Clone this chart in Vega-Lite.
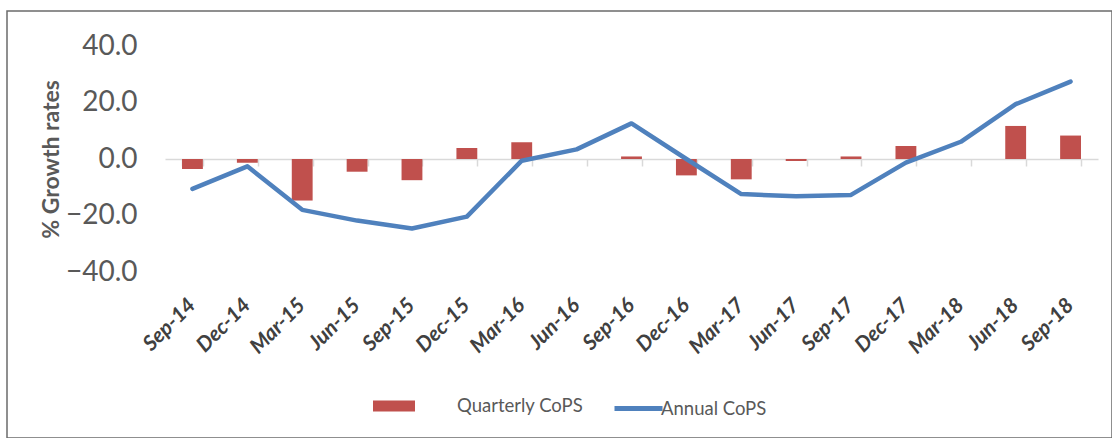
{
  "$schema": "https://vega.github.io/schema/vega-lite/v6.json",
  "autosize": {"type": "none"},
  "padding": {"left": 7, "top": 11, "right": 0, "bottom": 0},
  "width": 1105,
  "height": 427,
  "background": "white",
  "config": {
    "view": {"stroke": "#6b6b6b", "strokeWidth": 1.5},
    "font": "Lato"
  },
  "data": {
    "values": [
      {"quarter": "Sep-14", "quarterly": -3.5, "annual": -10.6},
      {"quarter": "Dec-14", "quarterly": -1.3, "annual": -2.6},
      {"quarter": "Mar-15", "quarterly": -14.7, "annual": -18.0},
      {"quarter": "Jun-15", "quarterly": -4.5, "annual": -21.8},
      {"quarter": "Sep-15", "quarterly": -7.5, "annual": -24.6},
      {"quarter": "Dec-15", "quarterly": 3.9, "annual": -20.4},
      {"quarter": "Mar-16", "quarterly": 5.9, "annual": -0.6},
      {"quarter": "Jun-16", "quarterly": 0.0, "annual": 3.4},
      {"quarter": "Sep-16", "quarterly": 0.9, "annual": 12.6},
      {"quarter": "Dec-16", "quarterly": -5.8, "annual": 0.0},
      {"quarter": "Mar-17", "quarterly": -7.2, "annual": -12.4},
      {"quarter": "Jun-17", "quarterly": -0.7, "annual": -13.2},
      {"quarter": "Sep-17", "quarterly": 0.9, "annual": -12.7},
      {"quarter": "Dec-17", "quarterly": 4.6, "annual": -1.3},
      {"quarter": "Mar-18", "quarterly": 0.0, "annual": 6.1},
      {"quarter": "Jun-18", "quarterly": 11.7, "annual": 19.4},
      {"quarter": "Sep-18", "quarterly": 8.3, "annual": 27.4}
    ]
  },
  "resolve": {"axis": {"x": "independent"}, "legend": {"fill": "independent", "stroke": "independent"}},
  "layer": [
    {
      "mark": {"type": "bar"},
      "encoding": {
        "x": {
          "field": "quarter", "type": "nominal", "sort": null,
          "scale": {"range": [158, 1091], "paddingInner": 0.62, "paddingOuter": 0.31, "align": 0.5},
          "axis": {
            "orient": "bottom", "offset": -279, "labels": false, "title": null,
            "domainColor": "#D9D9D9", "domainWidth": 1.5,
            "ticks": true, "tickColor": "#D9D9D9", "tickWidth": 1.5, "tickSize": 7, "tickBand": "extent"
          }
        },
        "y": {
          "field": "quarterly", "type": "quantitative",
          "scale": {"domain": [-98.76, 52.39], "nice": false, "zero": false},
          "axis": {
            "title": "% Growth rates", "values": [-40, -20, 0, 20, 40], "format": ".1f",
            "domain": false, "ticks": false, "grid": false, "offset": -130, "labelPadding": 0,
            "labelFont": "Lato", "labelFontSize": 28, "labelColor": "#595959",
            "titleFont": "Lato", "titleFontSize": 23, "titleFontWeight": "bold", "titleColor": "#595959",
            "titleX": -86, "titleY": 148, "titleAngle": -90, "titleAlign": "center", "titleBaseline": "middle"
          }
        },
        "y2": {"datum": 0},
        "fill": {
          "datum": "Quarterly CoPS",
          "scale": {"range": ["#C0504D"]},
          "legend": {
            "title": null, "orient": "none", "legendX": 366, "legendY": 374, "padding": 0,
            "symbolType": "M-1,-0.26H1V0.26H-1Z", "symbolSize": 1764, "symbolStrokeWidth": 0,
            "labelOffset": 42, "labelFont": "Lato", "labelFontSize": 18.5, "labelColor": "#595959"
          }
        }
      }
    },
    {
      "mark": {"type": "line", "strokeWidth": 4.5, "strokeCap": "round", "strokeJoin": "round"},
      "encoding": {
        "x": {
          "field": "quarter", "type": "nominal", "sort": null,
          "scale": {"range": [158, 1091], "paddingInner": 0.62, "paddingOuter": 0.31, "align": 0.5},
          "axis": {
            "orient": "bottom", "offset": -136, "title": null, "domain": false, "ticks": false,
            "labelAngle": -45, "labelAlign": "right", "labelBaseline": "middle", "labelPadding": 0,
            "labelFont": "Lato", "labelFontSize": 21, "labelFontWeight": "bold", "labelFontStyle": "italic",
            "labelColor": "#404040"
          }
        },
        "y": {
          "field": "annual", "type": "quantitative",
          "scale": {"domain": [-98.76, 52.39], "nice": false, "zero": false},
          "axis": {
            "title": "% Growth rates", "values": [-40, -20, 0, 20, 40], "format": ".1f",
            "domain": false, "ticks": false, "grid": false, "offset": -130, "labelPadding": 0,
            "labelFont": "Lato", "labelFontSize": 28, "labelColor": "#595959",
            "titleFont": "Lato", "titleFontSize": 23, "titleFontWeight": "bold", "titleColor": "#595959",
            "titleX": -86, "titleY": 148, "titleAngle": -90, "titleAlign": "center", "titleBaseline": "middle"
          }
        },
        "stroke": {
          "datum": "Annual CoPS",
          "scale": {"range": ["#4F81BD"]},
          "legend": {
            "title": null, "orient": "none", "legendX": 605, "legendY": 371, "padding": 0,
            "symbolType": "stroke", "symbolSize": 2304, "symbolStrokeWidth": 5,
            "labelOffset": -4, "labelFont": "Lato", "labelFontSize": 18.5, "labelColor": "#595959"
          }
        }
      }
    }
  ]
}
